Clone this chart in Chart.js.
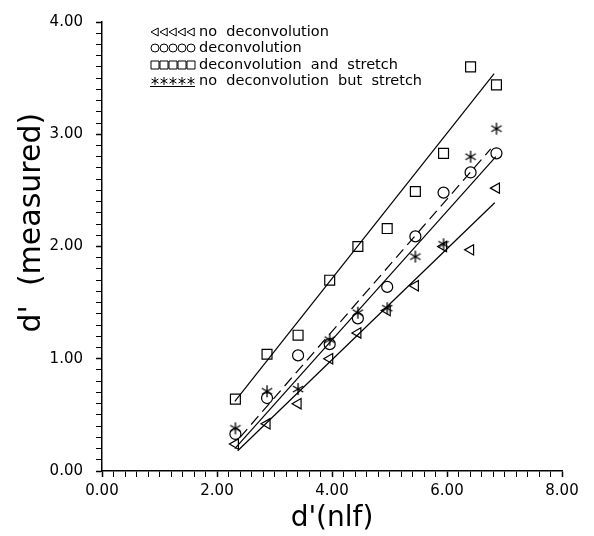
<!DOCTYPE html>
<html>
<head>
<meta charset="utf-8">
<script src="https://cdn.jsdelivr.net/npm/chart.js@4/dist/chart.umd.min.js"></script>
<style>
  html, body { margin: 0; padding: 0; background: #fff; }
  #wrap { width: 594px; height: 536px; }
</style>
</head>
<body>
<div id="wrap"><canvas id="chart" width="594" height="536"></canvas></div>
<script>
// d'(nlf) positions shared by every series
const xValues = [2.32, 2.87, 3.41, 3.96, 4.45, 4.96, 5.45, 5.94, 6.41, 6.86];

// measured d' for each condition
const noDeconv = [0.24, 0.42, 0.60, 1.00, 1.23, 1.43, 1.65, 2.00, 1.97, 2.52];
const deconv = [0.33, 0.65, 1.03, 1.13, 1.36, 1.64, 2.09, 2.48, 2.66, 2.83];
const deconvStretch = [0.64, 1.04, 1.21, 1.70, 2.00, 2.16, 2.49, 2.83, 3.60, 3.44];
const noDeconvStretch = [0.38, 0.71, 0.73, 1.17, 1.41, 1.45, 1.91, 2.02, 2.80, 3.05];

// fitted lines, end points
const fitNoDeconvX = [2.36, 6.83];
const fitNoDeconvY = [0.18, 2.39];
const fitDeconvX = [2.31, 6.85];
const fitDeconvY = [0.20, 2.80];
const fitDeconvStretchX = [2.31, 6.82];
const fitDeconvStretchY = [0.62, 3.54];
const fitNoDeconvStretchX = [2.40, 6.76];
const fitNoDeconvStretchY = [0.30, 2.87];

const legendLabels = [
    'no  deconvolution',
    'deconvolution',
    'deconvolution  and  stretch',
    'no  deconvolution  but  stretch'
];

const FONT = "'DejaVu Sans', sans-serif";

// six armed asterisk like the plotter one
function makeAsterisk(r) {
    const c = document.createElement('canvas');
    c.width = c.height = r * 2 + 2;
    const g = c.getContext('2d');
    g.strokeStyle = '#000';
    g.lineWidth = 1.3;
    g.beginPath();
    for (let k = 0; k < 3; k++) {
        const a = Math.PI / 2 + k * Math.PI / 3;
        g.moveTo(r + 1 + Math.cos(a) * r, r + 1 - Math.sin(a) * r);
        g.lineTo(r + 1 - Math.cos(a) * r, r + 1 + Math.sin(a) * r);
    }
    g.stroke();
    return c;
}

function pts(xs, ys) {
    return xs.map((x, i) => ({ x: x, y: ys[i] }));
}

function markerSet(ys, style, radius, rotation) {
    return {
        data: pts(xValues, ys),
        showLine: false,
        pointStyle: style,
        pointRadius: radius,
        pointRotation: rotation || 0,
        pointBackgroundColor: 'rgba(0,0,0,0)',
        pointBorderColor: '#000',
        pointBorderWidth: 1.2
    };
}

function fitSet(xs, ys, dash) {
    return {
        data: pts(xs, ys),
        showLine: true,
        borderColor: '#000',
        borderWidth: 1.2,
        borderDash: dash || [],
        pointRadius: 0,
        fill: false
    };
}

// small legend marker drawing
function drawMarker(ctx, kind, x, y, r) {
    ctx.beginPath();
    if (kind === 'tri') {
        ctx.moveTo(x - r, y);
        ctx.lineTo(x + r * 0.8, y - r);
        ctx.lineTo(x + r * 0.8, y + r);
        ctx.closePath();
    } else if (kind === 'circle') {
        ctx.arc(x, y, r, 0, Math.PI * 2);
    } else if (kind === 'rect') {
        ctx.rect(x - r, y - r, r * 2, r * 2);
    } else {
        for (let k = 0; k < 3; k++) {
            const a = Math.PI / 2 + k * Math.PI / 3;
            ctx.moveTo(x + Math.cos(a) * r, y - Math.sin(a) * r);
            ctx.lineTo(x - Math.cos(a) * r, y + Math.sin(a) * r);
        }
    }
    ctx.stroke();
}

const legendPlugin = {
    id: 'paperLegend',
    afterDraw(chart) {
        const ctx = chart.ctx;
        const kinds = ['tri', 'circle', 'rect', 'star'];
        const rows = [32, 48, 65, 81];
        ctx.save();
        ctx.strokeStyle = '#000';
        ctx.fillStyle = '#000';
        ctx.lineWidth = 1;
        ctx.font = '14.5px ' + FONT;
        ctx.textBaseline = 'middle';
        kinds.forEach((k, i) => {
            for (let j = 0; j < 5; j++) {
                drawMarker(ctx, k, 155 + j * 9, rows[i], 4);
            }
            if (k === 'star') {
                ctx.beginPath();
                ctx.moveTo(150, rows[i] + 5.5);
                ctx.lineTo(195, rows[i] + 5.5);
                ctx.stroke();
            }
            ctx.fillText(legendLabels[i], 199, rows[i]);
        });
        ctx.restore();
    }
};

function isMultiple(v, step) {
    const q = v / step;
    return Math.abs(q - Math.round(q)) < 1e-6;
}

new Chart(document.getElementById('chart'), {
    type: 'scatter',
    data: {
        datasets: [
            markerSet(noDeconv, 'triangle', 6, -90),
            markerSet(deconv, 'circle', 5.5),
            markerSet(deconvStretch, 'rect', 7),
            markerSet(noDeconvStretch, makeAsterisk(6), 6),
            fitSet(fitNoDeconvX, fitNoDeconvY),
            fitSet(fitDeconvX, fitDeconvY),
            fitSet(fitDeconvStretchX, fitDeconvStretchY),
            fitSet(fitNoDeconvStretchX, fitNoDeconvStretchY, [11, 6])
        ]
    },
    options: {
        responsive: false,
        animation: false,
        layout: { padding: { top: 13, right: 32, left: 0, bottom: 0 } },
        plugins: {
            legend: { display: false },
            tooltip: { enabled: false }
        },
        scales: {
            x: {
                type: 'linear',
                min: 0,
                max: 8,
                afterFit(scale) { scale.height = 65; },
                border: { display: true, color: '#000', width: 1.5 },
                grid: {
                    drawOnChartArea: false,
                    tickLength: 6,
                    tickColor: '#000',
                    tickWidth: c => isMultiple(c.tick.value, 2) ? 1.5 : 1
                },
                ticks: {
                    stepSize: 0.2,
                    autoSkip: false,
                    maxRotation: 0,
                    padding: 5,
                    color: '#000',
                    font: { family: FONT, size: 15 },
                    callback: v => isMultiple(v, 2) ? v.toFixed(2) : ''
                },
                title: {
                    display: true,
                    text: "d'(nlf)",
                    color: '#000',
                    font: { family: FONT, size: 28, lineHeight: 1.2 },
                    padding: { top: 0, bottom: 0 }
                }
            },
            y: {
                type: 'linear',
                min: 0,
                max: 4,
                afterFit(scale) { scale.width = 102; },
                border: { display: true, color: '#000', width: 1.5 },
                grid: {
                    drawOnChartArea: false,
                    tickLength: 6,
                    tickColor: '#000',
                    tickWidth: c => isMultiple(c.tick.value, 1) ? 1.5 : 1
                },
                ticks: {
                    stepSize: 0.1,
                    autoSkip: false,
                    padding: 13,
                    color: '#000',
                    font: { family: FONT, size: 15 },
                    callback: v => isMultiple(v, 1) ? v.toFixed(2) : ''
                },
                title: {
                    display: true,
                    // leading spaces lift the label like in the original
                    text: "     d'  (measured)",
                    color: '#000',
                    font: { family: FONT, size: 30, lineHeight: 1.2 },
                    padding: { top: 14, bottom: 0 }
                }
            }
        }
    },
    plugins: [legendPlugin]
});
</script>
</body>
</html>
